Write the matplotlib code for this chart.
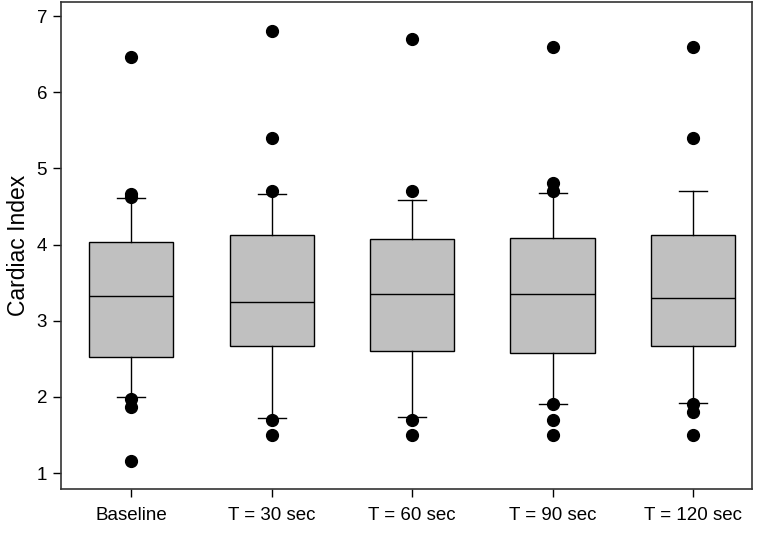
import matplotlib
matplotlib.use("Agg")
import matplotlib.pyplot as plt

plt.rcParams['font.family'] = ['Liberation Sans', 'DejaVu Sans']

# values
labels = ['Baseline', 'T = 30 sec', 'T = 60 sec', 'T = 90 sec', 'T = 120 sec']
q1 = [2.52, 2.67, 2.60, 2.58, 2.67]
med = [3.33, 3.25, 3.35, 3.35, 3.30]
q3 = [4.03, 4.12, 4.07, 4.09, 4.12]
wlo = [2.00, 1.72, 1.74, 1.91, 1.92]
whi = [4.61, 4.67, 4.59, 4.68, 4.70]
outliers = [
    [6.46, 4.67, 4.63, 1.97, 1.87, 1.16],
    [6.80, 5.40, 4.70, 1.70, 1.50],
    [6.70, 4.70, 1.70, 1.50],
    [6.60, 4.81, 4.70, 1.90, 1.70, 1.50],
    [6.60, 5.40, 1.91, 1.80, 1.50],
]

stats = []
for i in range(len(labels)):
    stats.append({'label': labels[i], 'q1': q1[i], 'med': med[i], 'q3': q3[i],
                  'whislo': wlo[i], 'whishi': whi[i], 'fliers': outliers[i]})

fig = plt.figure(figsize=(7.65, 5.41), dpi=100)
ax = fig.add_axes([0.0797, 0.0961, 0.9033, 0.9009])

lw = 1.0
ax.bxp(stats, positions=range(1, 6), widths=0.6, patch_artist=True,
       boxprops=dict(facecolor='#c0c0c0', edgecolor='black', linewidth=lw),
       medianprops=dict(color='black', linewidth=lw),
       whiskerprops=dict(color='black', linewidth=lw),
       capprops=dict(color='black', linewidth=lw),
       capwidths=0.2,
       flierprops=dict(marker='o', markerfacecolor='black', markeredgecolor='black',
                       markersize=8.5, linestyle='none'))

ax.set_xlim(0.5, 5.42)
ax.set_ylim(0.79, 7.19)
ax.set_yticks([1, 2, 3, 4, 5, 6, 7])
ax.set_ylabel('Cardiac Index', fontsize=16.5, labelpad=5)
ax.tick_params(direction='out', length=6, width=1, labelsize=13.5)
ax.tick_params(axis='x', pad=7)
ax.tick_params(axis='y', pad=4)
for s in ax.spines.values():
    s.set_linewidth(1.2)
    s.set_color('#333333')

fig.savefig('out.png', dpi=100)
